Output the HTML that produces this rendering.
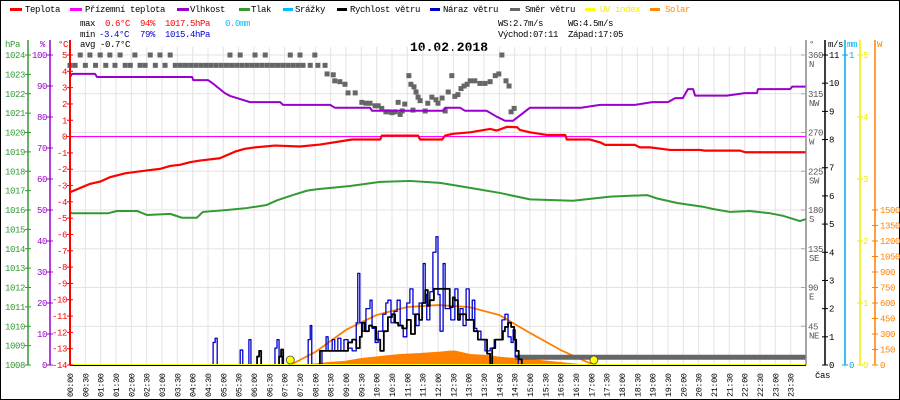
<!DOCTYPE html>
<html><head><meta charset="utf-8"><style>
html,body{margin:0;padding:0;background:#fff;}
svg{display:block;font-family:"Liberation Mono",monospace;}
</style></head><body>
<svg id="chart" width="900" height="400" viewBox="0 0 900 400" xmlns="http://www.w3.org/2000/svg">
<rect x="0.5" y="0.5" width="899" height="399" fill="#fff" stroke="#000"/>
<g id="legend" font-size="9" letter-spacing="-0.4">
 <g><rect x="10" y="8" width="12" height="3" fill="#f00"/><text x="25" y="12">Teplota</text></g>
 <g><rect x="70" y="8" width="12" height="3" fill="#f0f"/><text x="85" y="12">Přízemní teplota</text></g>
 <g><rect x="177" y="8" width="12" height="3" fill="#90c"/><text x="190" y="12">Vlhkost</text></g>
 <g><rect x="239" y="8" width="11" height="3" fill="#393"/><text x="251" y="12">Tlak</text></g>
 <g><rect x="283" y="8" width="10" height="3" fill="#0bf"/><text x="295" y="12">Srážky</text></g>
 <g><rect x="337" y="8" width="10" height="3" fill="#000"/><text x="350" y="12">Rychlost větru</text></g>
 <g><rect x="430" y="8" width="10" height="3" fill="#00c"/><text x="443" y="12">Náraz větru</text></g>
 <g><rect x="510" y="8" width="10" height="3" fill="#666"/><text x="525" y="12">Směr větru</text></g>
 <g><rect x="585" y="8" width="10" height="3" fill="#ff0"/><text x="600" y="12" fill="#ee0">UV index</text></g>
 <g><rect x="650" y="8" width="10" height="3" fill="#f80"/><text x="665" y="12" fill="#f80">Solar</text></g>
</g>
<g font-size="9" letter-spacing="-0.4">
 <text x="80" y="26">max</text><text x="105" y="26" fill="#f00">0.6°C</text><text x="140" y="26" fill="#f00">94%</text><text x="165" y="26" fill="#f00">1017.5hPa</text><text x="225" y="26" fill="#0bf">0.0mm</text>
 <text x="80" y="37">min</text><text x="99" y="37" fill="#00c">-3.4°C</text><text x="140" y="37" fill="#00c">79%</text><text x="165" y="37" fill="#00c">1015.4hPa</text>
 <text x="80" y="47">avg -0.7°C</text>
 <text x="498" y="26">WS:2.7m/s</text><text x="568" y="26">WG:4.5m/s</text>
 <text x="498" y="37">Východ:07:11</text><text x="568" y="37">Západ:17:05</text>
</g>
<text x="449" y="51" text-anchor="middle" font-size="13" font-weight="bold">10.02.2018</text>
<g id="grid"></g>
<g id="series"></g>
<g id="axes" font-size="9" letter-spacing="-0.4"></g>
</svg>
<script>
// ---- data (time in minutes since midnight) ----
const tempT=[0,39,59,78,108,137,176,196,215,235,254,293,323,342,362,401,450,489,552,607,610,681,685,728,734,749,783,822,835,855,875,880,900,933,969,972,1017,1037,1047,1105,1115,1135,1174,1233,1242,1311,1321,1440];
const tempV=[-3.41,-2.9,-2.76,-2.49,-2.25,-2.13,-1.98,-1.8,-1.73,-1.57,-1.47,-1.33,-0.92,-0.75,-0.66,-0.55,-0.61,-0.49,-0.18,-0.18,0.06,0.06,-0.18,-0.18,0.06,0.17,0.26,0.47,0.37,0.6,0.57,0.41,0.26,0.1,0.1,-0.18,-0.18,-0.35,-0.51,-0.51,-0.66,-0.66,-0.82,-0.82,-0.86,-0.86,-0.96,-0.96];
const feelT=[0,1440];
const feelV=[0,0];
const humT=[0,4,49,53,239,241,270,278,303,313,333,352,411,417,509,518,587,591,730,734,763,773,815,835,851,867,900,1000,1037,1105,1139,1170,1184,1199,1209,1219,1223,1285,1320,1344,1346,1409,1413,1440];
const humV=[92.9,93.9,93.9,92.9,92.9,91.9,91.9,91.0,87.7,86.8,85.8,84.8,84.8,83.9,83.9,83.0,83.0,82.0,82.0,83.0,83.0,82.0,82.0,80.1,78.8,78.8,83.0,83.0,83.9,83.9,84.8,84.8,86.1,86.1,89.0,89.0,86.9,86.9,87.7,87.7,89.0,89.0,89.8,89.8];
const presT=[0,4,74,92,131,151,196,219,248,260,307,346,385,405,436,464,485,548,607,665,724,783,841,900,984,1057,1129,1148,1188,1238,1258,1291,1330,1370,1395,1428,1440];
const presV=[1015.9,1015.83,1015.83,1015.95,1015.95,1015.74,1015.8,1015.6,1015.6,1015.9,1016.0,1016.1,1016.26,1016.5,1016.77,1017.0,1017.08,1017.24,1017.45,1017.5,1017.4,1017.14,1016.88,1016.55,1016.48,1016.69,1016.77,1016.6,1016.36,1016.17,1016.05,1015.9,1015.95,1015.83,1015.7,1015.43,1015.53];
const gustT=[0,274,280,284,288,327,333,338,344,350,354,395,401,405,409,415,460,466,470,473,485,493,501,505,513,518,524,530,536,544,552,560,563,567,573,579,587,591,597,603,612,618,622,628,634,640,646,652,659,665,671,677,683,691,695,698,704,710,716,720,724,730,734,740,745,753,759,763,769,775,781,787,792,796,804,812,822,830,837,845,851,857,863,867,871,877,1440];
const gustV=[0,0,0.8,0.95,0,0,0.53,0,0,0.9,0,0,0.6,0.9,0.3,0,0,0.9,1.4,0,0,0.5,1.0,0.5,0.9,0.5,0.95,0.5,0.9,0.6,0.5,1.5,3.25,1.5,1.2,2.0,2.3,1.3,0.8,1.2,1.8,2.2,2.3,1.5,1.9,2.3,1.4,1.0,2.2,2.7,1.8,1.4,2.2,3.6,2.5,1.6,2.6,4.0,4.55,2.5,1.2,3.6,2.0,2.0,1.6,2.7,1.8,2.0,1.4,2.7,1.6,2.3,1.3,1.2,0.9,0.5,0.6,0.9,0.9,1.6,1.8,1.0,0.8,1.25,0.3,0,0];
const windT=[0,362,366,370,374,405,409,413,417,485,489,538,544,552,560,567,571,577,585,591,599,607,614,622,630,636,642,650,659,667,675,683,689,695,700,704,712,738,743,749,753,759,763,769,775,783,790,798,808,816,822,826,832,841,847,851,857,863,869,873,878,884,1440];
const windV=[0,0,0.3,0.5,0,0,0.3,0.55,0,0,0.5,0.5,0.8,0.9,0.6,1.0,1.5,1.2,1.4,1.35,0.9,0.5,1.2,1.7,1.8,1.5,1.4,1.3,1.6,1.1,1.8,1.6,2.2,2.66,2.1,2.3,2.7,2.7,2.05,2.4,2.3,1.6,1.8,1.8,1.6,1.6,1.2,0.9,0.9,0.4,0,0.6,0.9,0.9,1.2,1.35,1.5,1.35,0.9,0.5,0.2,0,0];
const dirT=[0,10,20,30,39,50,59,70,78,88,98,108,118,127,137,147,157,167,176,186,196,206,216,226,236,246,256,266,276,286,296,306,313,316,326,333,336,346,356,362,366,376,382,386,396,406,416,426,431,436,446,450,456,470,479,485,499,503,515,518,528,538,544,558,571,579,587,597,603,610,618,624,630,636,646,650,642,655,663,667,673,677,681,671,685,695,700,708,716,720,728,734,740,747,753,759,765,771,777,783,792,802,812,822,832,839,845,853,859,863,869];
const dirV=[348,348,360,348,360,348,360,348,360,348,360,348,348,360,348,348,360,348,360,348,360,348,348,348,348,348,348,348,348,348,348,348,360,348,348,360,348,348,348,360,348,348,360,348,348,348,348,348,360,348,348,360,348,348,360,348,348,338,337,330,329,326,316,316,305,304,304,301,301,298,294,294,293,294,291,295,305,303,336,326,323,317,311,296,307,295,304,311,308,304,310,295,317,336,312,314,321,324,326,330,330,327,327,329,336,338,360,330,324,294,298];
const calmT=[871,1440];
const calmDeg=9;
const solarT=[450,489,509,538,567,607,646,685,724,743,753,783,816,841,880,920,959,998,1027];
const solarV=[0,20,30,40,65,87,106,116,129,139,140,106,97,80,65,48,29,10,0];
const clearT=[431,480,540,600,660,720,780,840,900,960,1020,1025];
const clearV=[0,126,340,484,561,580,561,484,310,145,10,0];
const sunT=[431,1025];
const uvT=[0,1440];
const uvV=[0,0];
const hpaTicks=[1024,1023,1022,1021,1020,1019,1018,1017,1016,1015,1014,1013,1012,1011,1010,1009,1008];
const humTicks=[100,90,80,70,60,50,40,30,20,10,0];
const tempTicks=[5,4,3,2,1,0,-1,-2,-3,-4,-5,-6,-7,-8,-9,-10,-11,-12,-13,-14];
const dirTicks=[360,315,270,225,180,135,90,45];
const dirNames=["N","NW","W","SW","S","SE","E","NE"];
const msTicks=[0,1,2,3,4,5,6,7,8,9,10,11];
const uvTicks=[0,1,2,3,4,5];
const solTicks=[0,150,300,450,600,750,900,1050,1200,1350,1500];

// ---- scales ----
const X0=70,X1=806,Y0=55,Y1=365;
const ns="http://www.w3.org/2000/svg";
const tx=m=>X0+m/1440*(X1-X0);
const yT=v=>Y1-(v+14)/19*(Y1-Y0);
const yH=v=>Y1-v/100*(Y1-Y0);
const yP=v=>Y1-(v-1008)/16*(Y1-Y0);
const yW=v=>Y1-v/11*(Y1-Y0);
const yD=v=>Y1-v/360*(Y1-Y0);
const yS=v=>Y1-v/1500*155;
const yU=v=>Y1-v/5*(Y1-Y0);
function mk(tag,attrs,parent){const e=document.createElementNS(ns,tag);for(const k in attrs)e.setAttribute(k,attrs[k]);parent.appendChild(e);return e;}
const grid=document.getElementById('grid'),ser=document.getElementById('series'),ax=document.getElementById('axes');

// grid
for(let i=0;i<=48;i++){const x=tx(i*30);const l=mk('line',{x1:x,x2:x,y1:Y0-8,y2:Y1,stroke:'#e6e2e2','stroke-width':1},grid);

}
for(let k=1024;k>=1008;k-=2){const y=yP(k);const l=mk('line',{x1:X0,x2:X1,y1:y,y2:y,stroke:'#e6e2e2','stroke-width':1},grid);

}

function line(T,V,ys,color,w,name,step){let d='';T.forEach((t,i)=>{const x=tx(t),y=ys(V[i]);if(i==0)d='M'+x+' '+y;else if(step){d+=' H'+x+' V'+y;}else d+=' L'+x+' '+y;});
const p=mk('path',{d:d,fill:'none',stroke:color,'stroke-width':w,'stroke-linejoin':'round'},ser);

return p;}

// solar area
{let d='M'+tx(solarT[0])+' '+Y1;solarT.forEach((t,i)=>{d+=' L'+tx(t)+' '+yS(solarV[i]);});d+=' L'+tx(solarT[solarT.length-1])+' '+Y1+' Z';
const p=mk('path',{d:d,fill:'#ff8000',stroke:'none'},ser);

}
line(clearT,clearV,yS,'#ff8000',1.8,'solar-clear-sky-line',false);
// wind direction
dirT.forEach((t,i)=>{const r=mk('rect',{x:tx(t)-2.5,y:yD(dirV[i])-2.5,width:5,height:5,fill:'#666'},ser);

});
{const r=mk('rect',{x:tx(calmT[0]),y:yD(calmDeg)-2.5,width:tx(calmT[1])-tx(calmT[0]),height:5,fill:'#666'},ser);

}
line(gustT,gustV,yW,'#0000cc',1.3,'wind-gust-line',true);
line(windT,windV,yW,'#000',1.8,'wind-speed-line',true);
line(presT,presV,yP,'#339933',2,'pressure-line',false);
line(humT,humV,yH,'#9900cc',2,'humidity-line',false);
line(feelT,feelV,yT,'#ff00ff',1.2,'apparent-temperature-line',false);
line(tempT,tempV,yT,'#ff0000',2.2,'temperature-line',false);
line(uvT,uvV,yU,'#ffff00',2,'uv-index-line',false);
sunT.forEach(t=>{const c=mk('circle',{cx:tx(t),cy:Y1-5,r:4,fill:'#ffff00',stroke:'#444','stroke-width':0.8},ser);

});
{const l=mk('line',{x1:X0,x2:X1,y1:Y1+0.5,y2:Y1+0.5,stroke:'#000','stroke-width':1},ax);

}

// vertical axes
function vaxis(x,color,ticks,ys,labelX,anchor,name,labels){
 const l=mk('line',{x1:x,x2:x,y1:Y0-15,y2:Y1,stroke:color,'stroke-width':name=='temp-axis'?2:1.5},ax);
 
 
 ticks.forEach((v,i)=>{const y=ys(v);mk('line',{x1:x-3,x2:x+3,y1:y,y2:y,stroke:color,'stroke-width':1},ax);
  const t=mk('text',{x:labelX,y:y+3,fill:color,'text-anchor':anchor},ax);t.textContent=labels?labels[i]:v;
  
  });
}
vaxis(28,'#339933',hpaTicks,yP,25,'end','pressure-axis');
vaxis(50,'#9900cc',humTicks,yH,47,'end','humidity-axis');
vaxis(70,'#ff0000',tempTicks,yT,67,'end','temp-axis');
vaxis(825,'#000',msTicks,yW,829,'start','wind-speed-axis');
vaxis(845,'#00aaee',[0,1],v=>v==0?Y1:Y0,849,'start','rain-axis',['0','1']);
vaxis(860,'#eeee00',uvTicks,yU,863,'start','uv-axis');
{const l=mk('line',{x1:875,x2:875,y1:Y0-15,y2:Y1,stroke:'#ff8000','stroke-width':1.5},ax);


solTicks.forEach(v=>{const y=yS(v);mk('line',{x1:872,x2:878,y1:y,y2:y,stroke:'#ff8000'},ax);const t=mk('text',{x:880,y:y+3,fill:'#ff8000'},ax);t.textContent=v;

});}
// direction axis
{const l=mk('line',{x1:806,x2:806,y1:Y0-15,y2:Y1,stroke:'#888','stroke-width':1.5},ax);


dirTicks.forEach((v,i)=>{const y=yD(v);mk('line',{x1:801,x2:806,y1:y,y2:y,stroke:'#aaa'},ax);
const t=mk('text',{x:808,y:y+3,fill:'#555'},ax);t.textContent=v;


const n=mk('text',{x:809,y:y+12,fill:'#555'},ax);n.textContent=dirNames[i];

});}
// axis titles
[['hPa',5,'#339933'],['%',40,'#9900cc'],['°C',58,'#ff0000'],['°',809,'#555'],['m/s',828,'#000'],['mm',847,'#00aaee'],['W',877,'#ff8000']].forEach(a=>{
 const t=mk('text',{x:a[1],y:47,fill:a[2]},ax);t.textContent=a[0];
 
 });
{const t=mk('text',{x:815,y:378,fill:'#000'},ax);t.textContent='čas';

}
// time labels
for(let i=0;i<48;i++){const m=i*30;const s=String(Math.floor(m/60)).padStart(2,'0')+':'+String(m%60).padStart(2,'0');const x=tx(m)+3;
 const t=mk('text',{x:0,y:0,transform:'translate('+x+',397) rotate(-90)',fill:'#000','font-size':8.5},ax);t.textContent=s;
 
 }
</script>
</body></html>
